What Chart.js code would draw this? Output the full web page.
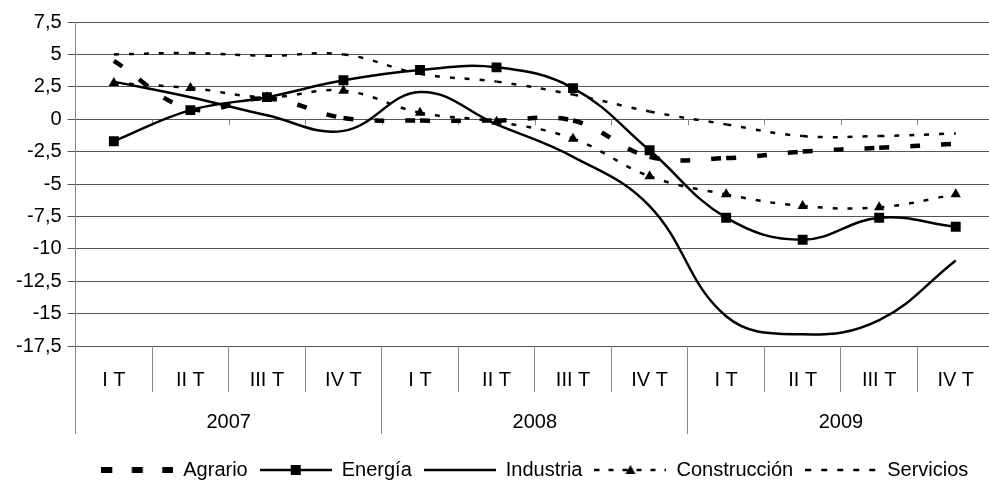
<!DOCTYPE html>
<html>
<head>
<meta charset="utf-8">
<script src="https://cdn.jsdelivr.net/npm/chart.js@4.4.1/dist/chart.umd.min.js"></script>
<style>
  html, body { margin: 0; padding: 0; background: #fff; overflow: hidden; }
  #wrap { position: relative; width: 1001px; height: 490px; }
</style>
</head>
<body>
<div id="wrap"><canvas id="lineChart"></canvas></div>
<script>
const quarters = ["I T", "II T", "III T", "IV T", "I T", "II T", "III T", "IV T", "I T", "II T", "III T", "IV T"];
const years = ["2007", "2008", "2009"];
const yTicks = [7.5, 5, 2.5, 0, -2.5, -5, -7.5, -10, -12.5, -15, -17.5];

const agrario = [4.5, 0.8, 1.6, 0.1, -0.1, -0.1, -0.1, -2.9, -3.0, -2.5, -2.2, -1.9];
const energia = [-1.7, 0.7, 1.7, 3.0, 3.8, 4.0, 2.4, -2.4, -7.6, -9.3, -7.6, -8.3];
const industria = [2.9, 1.7, 0.3, -0.9, 2.1, -0.4, -2.9, -6.7, -15.2, -16.6, -15.5, -10.9];
const construccion = [2.8, 2.4, 1.7, 2.2, 0.5, -0.2, -1.5, -4.4, -5.8, -6.7, -6.8, -5.8];
const servicios = [5.0, 5.1, 4.9, 5.0, 3.5, 2.9, 1.9, 0.6, -0.4, -1.3, -1.3, -1.1];

Chart.defaults.font.family = '"Liberation Sans", Arial, sans-serif';
Chart.defaults.font.size = 20;
Chart.defaults.color = "#000";

// legend swatch: a short piece of line with the marker in the middle
function swatch(dash, width, marker) {
  const c = document.createElement("canvas");
  c.width = 72;
  c.height = 14;
  const g = c.getContext("2d");
  g.strokeStyle = "#000";
  g.fillStyle = "#000";
  g.lineWidth = width;
  g.setLineDash(dash);
  g.beginPath();
  g.moveTo(0, 7);
  g.lineTo(72, 7);
  g.stroke();
  if (marker === "rect") g.fillRect(31, 2, 10, 10);
  if (marker === "triangle") {
    g.beginPath();
    g.moveTo(36, 2);
    g.lineTo(41, 11);
    g.lineTo(31, 11);
    g.closePath();
    g.fill();
  }
  return c;
}

const swatches = [
  swatch([11, 19.5], 6),
  swatch([], 2.5, "rect"),
  swatch([], 2.5),
  swatch([5, 9], 2.5, "triangle"),
  swatch([6, 10], 2.5)
];

// restart the dash pattern on every segment, as the original does
const restartDash = { borderDashOffset: (c) => (c.p0DataIndex % 2 ? 0.001 : 0) };

const zeroTicks = {
  id: "zeroTicks",
  beforeDatasetsDraw(chart) {
    const { ctx, scales } = chart;
    const y0 = scales.y.getPixelForValue(0);
    ctx.save();
    ctx.strokeStyle = "#888";
    ctx.lineWidth = 1;
    ctx.beginPath();
    for (let i = 1; i < quarters.length; i++) {
      const px = Math.round(scales.x.getPixelForValue(i - 0.5)) + 0.5;
      ctx.moveTo(px, y0);
      ctx.lineTo(px, y0 + 6);
    }
    ctx.stroke();
    ctx.restore();
  }
};

const base = { borderColor: "#000", backgroundColor: "#000", tension: 0.4, pointRadius: 0, pointBorderWidth: 0, fill: false };

new Chart(document.getElementById("lineChart"), {
  type: "line",
  data: {
    labels: quarters,
    datasets: [
      { ...base, label: "Agrario", data: agrario, borderWidth: 4.5, borderDash: [10, 21], segment: restartDash },
      { ...base, label: "Energía", data: energia, borderWidth: 2.5, pointStyle: "rect", pointRadius: 7 },
      { ...base, label: "Industria", data: industria, borderWidth: 2.5 },
      { ...base, label: "Construcción", data: construccion, borderWidth: 2.5, borderDash: [5, 10], segment: restartDash, pointStyle: "triangle", pointRadius: 6 },
      { ...base, label: "Servicios", data: servicios, borderWidth: 2.5, borderDash: [5, 10], segment: restartDash }
    ]
  },
  options: {
    responsive: true,
    maintainAspectRatio: false,
    animation: false,
    layout: { padding: { left: 10, top: 22, right: 0, bottom: 0 } },
    scales: {
      y: {
        min: -17.5,
        max: 7.5,
        afterBuildTicks: (scale) => { scale.ticks = yTicks.map((v) => ({ value: v })); },
        ticks: {
          padding: 6,
          callback: (v) => String(v).replace(".", ",")
        },
        grid: { color: "#555", tickLength: 8 },
        border: { display: true, color: "#888" }
      },
      x: {
        weight: 0,
        offset: true,
        ticks: {
          maxRotation: 0,
          autoSkip: false,
          padding: -24,
          font: { size: 20, lineHeight: 1.2 },
          callback: function (v) { return [this.getLabelForValue(v), ""]; }
        },
        grid: { offset: true, drawOnChartArea: false, tickLength: 46, color: "#888" },
        border: { display: false }
      },
      x2: {
        type: "category",
        position: "bottom",
        weight: 1,
        labels: years,
        offset: true,
        ticks: {
          maxRotation: 0,
          autoSkip: false,
          padding: -31,
          font: { size: 20, lineHeight: 1.9 },
          callback: function (v) { return [this.getLabelForValue(v), ""]; }
        },
        grid: { offset: true, drawOnChartArea: false, tickLength: 42, color: "#888" },
        border: { display: false }
      }
    },
    plugins: {
      legend: {
        position: "bottom",
        fullSize: false,
        labels: {
          usePointStyle: true,
          pointStyleWidth: 72,
          padding: 12,
          font: { size: 20 },
          generateLabels: (chart) =>
            Chart.defaults.plugins.legend.labels.generateLabels(chart).map((item, i) => ({ ...item, pointStyle: swatches[i] }))
        }
      },
      tooltip: { enabled: false }
    }
  },
  plugins: [zeroTicks]
});
</script>
</body>
</html>
